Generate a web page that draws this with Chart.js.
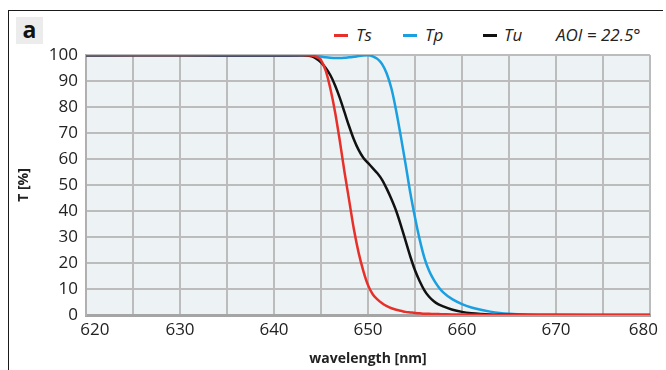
<!DOCTYPE html>
<html>
<head>
<meta charset="utf-8">
<script src="https://cdn.jsdelivr.net/npm/chart.js@4"></script>
<style>
  html, body { margin: 0; padding: 0; background: #fff; }
  body { width: 666px; height: 370px; position: relative; overflow: hidden; font-family: 'Open Sans', sans-serif; }
  #frame { position: absolute; left: 8px; top: 10px; width: 654px; height: 380px;
           border-top: 1.5px solid #1a1a1a; border-left: 1.5px solid #1a1a1a; }
  #panel { position: absolute; left: 16px; top: 17px; width: 27px; height: 27px; background: #ececec;
           font: bold 23px 'Open Sans', sans-serif; line-height: 25px; text-align: center; color: #111; }
  .leg { position: absolute; top: 24px; font: italic 17px 'Open Sans', sans-serif; color: #222; line-height: 22px; }
  .sw { position: absolute; top: 34px; width: 14px; height: 2.5px; }
  #wrap { position: absolute; left: 0; top: 0; width: 666px; height: 370px; }
</style>
</head>
<body>
<div id="frame"></div>
<div id="panel">a</div>
<div class="sw" style="left:334px;background:#e8302a"></div><span class="leg" style="left:356px">Ts</span>
<div class="sw" style="left:403px;background:#1a9fe0"></div><span class="leg" style="left:425px">Tp</span>
<div class="sw" style="left:483px;background:#111"></div><span class="leg" style="left:504px">Tu</span>
<span class="leg" style="left:556px">AOI = 22.5°</span>
<div id="wrap"><canvas id="c"></canvas></div>
<script>
// wavelength [nm]
var wavelength = [620, 625, 630, 635, 640, 643, 644, 644.5, 645, 645.5, 646, 646.5, 647, 647.5, 648, 648.5,
  649, 649.5, 650, 650.5, 651, 651.5, 652, 652.5, 653, 653.5, 654, 654.5, 655, 655.5, 656, 656.5,
  657, 657.5, 658, 659, 660, 661, 662, 663, 664, 665, 667, 670, 675, 680];

// transmission [%]
var ts = [100, 100, 100, 100, 100, 100, 99.8, 99.3, 98, 94, 87, 78, 67, 55, 44, 33,
  24, 17, 11.5, 8, 6, 4.5, 3.4, 2.6, 2.0, 1.6, 1.2, 1.0, 0.8, 0.65, 0.5, 0.45,
  0.4, 0.35, 0.3, 0.2, 0.15, 0.1, 0.05, 0, 0, 0, 0, 0, 0, 0];
var tp = [99.8, 99.9, 99.9, 99.7, 99.7, 99.8, 99.8, 99.6, 99.4, 99.1, 98.9, 98.8, 98.8, 98.9, 99.1, 99.3,
  99.6, 99.8, 99.9, 99.5, 98.5, 96.5, 92.8, 87, 78.5, 68.5, 58, 47, 37.5, 29, 22, 17,
  13.5, 10.8, 8.7, 6, 4.2, 2.9, 2, 1.3, 0.8, 0.5, 0.2, 0.05, 0, 0];
var tu = [99.9, 99.9, 99.9, 99.9, 99.9, 99.9, 99.5, 98.6, 97.2, 95, 92.2, 88.3, 83.5, 78, 72.5, 67.5,
  63.5, 60.5, 58.5, 56.5, 54.5, 52, 48.5, 44.5, 40, 34.5, 28.5, 22.5, 17.2, 13, 9.5, 7,
  5.3, 4.1, 3.3, 2, 1.2, 0.7, 0.4, 0.2, 0.1, 0.05, 0, 0, 0, 0];

function pts(values) {
  return values.map(function(v, i) { return { x: wavelength[i], y: v }; });
}

function series(label, values, color) {
  return {
    label: label,
    data: pts(values),
    borderColor: color,
    borderWidth: 2.5,
    pointRadius: 0,
    cubicInterpolationMode: 'monotone',
    fill: false
  };
}

// light plot background
var plotBg = {
  id: 'plotBg',
  beforeDraw: function(chart) {
    var a = chart.chartArea, ctx = chart.ctx;
    ctx.save();
    ctx.fillStyle = '#edf2f5';
    ctx.fillRect(a.left, a.top, a.right - a.left, a.bottom - a.top);
    ctx.restore();
  }
};

var tickFont = { family: "'Open Sans', sans-serif", size: 17 };
var titleFont = { family: "'Open Sans', sans-serif", size: 14, weight: 'bold' };

new Chart(document.getElementById('c'), {
  type: 'line',
  data: {
    datasets: [
      series('Ts', ts, '#e8302a'),
      series('Tu', tu, '#111111'),
      series('Tp', tp, '#1a9fe0')
    ]
  },
  options: {
    responsive: true,
    maintainAspectRatio: false,
    animation: false,
    layout: { padding: { top: 55, right: 16, left: 16, bottom: 0 } },
    plugins: { legend: { display: false }, tooltip: { enabled: false } },
    scales: {
      x: {
        type: 'linear',
        min: 620,
        max: 680,
        grid: { color: '#bcbcbc', lineWidth: 2, drawTicks: false },
        border: { display: true, color: '#a5a5a5', width: 3 },
        ticks: {
          stepSize: 5,
          padding: 5,
          color: '#222',
          font: tickFont,
          maxRotation: 0,
          autoSkip: false,
          // end labels sit a little inside the frame, as in the original
          callback: function(v) {
            if (v % 10 !== 0) return '';
            if (v === 620) return '    620';
            if (v === 680) return '680   ';
            return String(v);
          }
        },
        title: { display: true, text: 'wavelength [nm]', color: '#222', font: titleFont, padding: { top: 0, bottom: 3 } },
        afterFit: function(scale) {
          scale.height = 55;
          scale.paddingLeft = 0;
          scale.paddingRight = 0;
        }
      },
      y: {
        min: 0,
        max: 100,
        grid: { color: '#bcbcbc', lineWidth: 2, drawTicks: false },
        border: { display: true, color: '#b0b0b0', width: 2 },
        ticks: { stepSize: 10, padding: 8, color: '#222', font: tickFont },
        title: { display: true, text: 'T [%]', color: '#222', font: titleFont, padding: { top: 0, bottom: 0 } },
        afterFit: function(scale) {
          scale.width = 70;
          scale.paddingTop = 0;
          scale.paddingBottom = 0;
        }
      }
    }
  },
  plugins: [plotBg]
});
</script>
</body>
</html>
